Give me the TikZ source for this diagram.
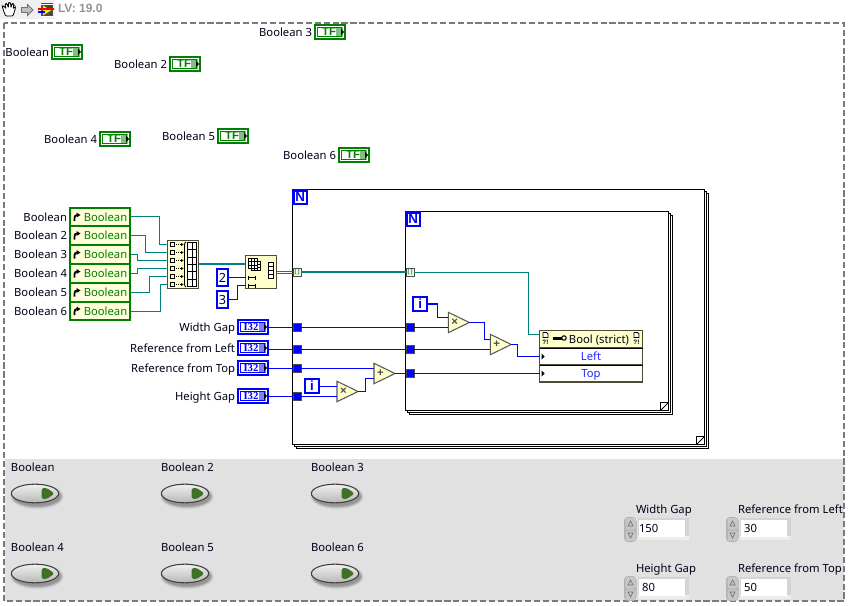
\documentclass[tikz,border=0pt]{standalone}
\usepackage{fontspec}
\setmainfont{Noto Sans}
\newfontfamily\lvsb{Liberation Sans}
\newfontfamily\lvsr{Liberation Serif}
\usetikzlibrary{calc,shapes.geometric,shadings}
\definecolor{lvgreen}{HTML}{007F00}
\definecolor{lvlight}{HTML}{7FBF7F}
\definecolor{lvblue}{HTML}{0000FF}
\definecolor{lvlblue}{HTML}{8080FF}
\definecolor{lvteal}{HTML}{008080}
\definecolor{lvcream}{HTML}{FFFFCC}
\definecolor{lvedge}{HTML}{4D4D33}
\definecolor{lvpanel}{HTML}{E1E1E1}
\definecolor{lvled}{HTML}{3F7026}
\newcommand{\lvfont}{\fontsize{8.45}{10}\selectfont}
\tikzset{
  lvb/.style={inner sep=0pt,outer sep=0pt,rectangle},
  lbl/.style={inner sep=0pt,outer sep=0pt,font=\lvfont,text=black!90!blue,text height=7pt,text depth=2pt,yshift=-1pt},
  bwire/.style={draw=lvblue,line width=1pt},
  twire/.style={draw=lvteal,line width=.95pt},
  thwire/.style={draw=lvteal,line width=1.6pt},
  loopfr/.style={draw=black,line width=.8pt,fill=white},
  nbox/.style={draw=lvblue,line width=1.6pt,fill=white,font=\lvsb\bfseries\fontsize{10}{10}\selectfont,text=lvblue},
  tun/.style={draw=black!70,line width=.7pt,fill=lvblue},
  atun/.style={draw=black!70,line width=.7pt,fill=lvcream,font=\lvsb\bfseries\fontsize{4.5}{5}\selectfont,text=lvteal},
  icn/.style={draw=lvedge,line width=.9pt,fill=lvcream},
  glyph/.style={draw=black,line width=.55pt,fill=white},
}
\newcommand{\lvbox}[7][]{\node[lvb,#1,minimum width={(#5-(#3))*0.75pt},minimum height={(#6-(#4))*0.75pt}] (#2) at ({(#3+#5)/2},{(#4+#6)/2}) {#7};}
% Boolean terminal: name, left, top, label
\newcommand{\tfterm}[4]{%
  \lvbox[draw=lvgreen,line width=1.5pt,fill=white]{#1}{#2+1}{#3+1}{#2+31}{#3+15}{}
  \fill[lvlight] (#2+22,#3+3) rectangle (#2+29,#3+13);
  \draw[lvgreen,line width=.75pt] (#2+3.5,#3+3.5) rectangle (#2+27,#3+12.5);
  \node[inner sep=0pt,font=\lvsb\bfseries\fontsize{8.5}{9}\selectfont,text=lvgreen] at (#2+15,#3+8) {TF};
  \fill[black] (#2+27,#3+5) -- (#2+30,#3+8) -- (#2+27,#3+11) -- cycle;
  \node[lbl,anchor=east] (#1l) at (#2-2,#3+8) {#4};
}
% I32 terminal
\newcommand{\iterm}[4]{%
  \lvbox[draw=lvblue,line width=1.5pt,fill=white]{#1}{237+1}{#2+1}{269-1}{#2+15}{}
  \fill[lvlblue] (237+22,#2+3) rectangle (237+29,#2+13);
  \draw[lvblue,line width=.75pt] (237+3.5,#2+3.5) rectangle (237+27,#2+12.5);
  \node[inner sep=0pt,font=\lvsr\bfseries\fontsize{8}{8}\selectfont,text=lvblue] at (237+14,#2+8) {I32};
  \fill[black] (237+27,#2+5) -- (237+30,#2+8) -- (237+27,#2+11) -- cycle;
  \node[lbl,anchor=east] (#1l) at (235,#2+8) {#3};
}
% property row: name, top, bottom, label
\newcommand{\prow}[4]{%
  \lvbox[draw=lvgreen,line width=1.5pt,fill=lvcream!70!white]{#1}{70}{#2}{130}{#3}{}
  \node[inner sep=0pt,anchor=west,font=\lvfont,text=lvgreen,text height=7pt,text depth=2pt,yshift=-.6pt] at (83.5,{(#2+#3)/2}) {Boolean};
  \draw[black,line width=1.3pt] (74.5,{(#2+#3)/2+4}) -- (74.5,{(#2+#3)/2+1}) .. controls (74.5,{(#2+#3)/2-1}) and (75.5,{(#2+#3)/2-2}) .. (77,{(#2+#3)/2-2});
  \fill[black] (76.5,{(#2+#3)/2-4.5}) -- (80.5,{(#2+#3)/2-2}) -- (76.5,{(#2+#3)/2+.5}) -- cycle;
  \node[lbl,anchor=east] (#1l) at (67,{(#2+#3)/2-.5}) {#4};
}
% triangle arithmetic node
\newcommand{\lvtri}[4]{%
  \draw[draw=black!65,line width=.8pt,fill=lvcream] (#2,#3) -- (#2+21,#3+10.2) -- (#2,#3+20.4) -- cycle;
  \coordinate (#1-a) at (#2,#3+5.2);
  \coordinate (#1-b) at (#2,#3+15.2);
  \coordinate (#1-o) at (#2+21,#3+10.2);
  \node[inner sep=0pt,font=\lvsb\bfseries\fontsize{8.5}{8}\selectfont,text=black!70] (#1) at (#2+6.5,#3+10.2) {#4};
}
% front panel switch
\newcommand{\lvled}[4]{%
  \node[lbl,anchor=west] (#1l) at (#2+1,#3-17) {#4};
  \foreach \k/\o in {6/.06,4.5/.08,3/.10,1.5/.14}{\fill[black,opacity=\o] (#2+27,#3+12.5) ellipse ({23+\k*.6} and {9+\k*.6});}
  \node[inner sep=0pt,outer sep=0pt,ellipse,draw=black!75,line width=.8pt,top color=black!6,bottom color=black!28,minimum width=35.5pt,minimum height=14pt] (#1) at (#2+25,#3+9.5) {};
  \draw[rounded corners=1pt,fill=lvled,draw=lvled] (#2+32,#3+4.5) -- (#2+37,#3+4.5) -- (#2+44,#3+9.5) -- (#2+37,#3+14.5) -- (#2+32,#3+14.5) -- cycle;
}
% numeric control: name,left,top,label,value
\newcommand{\lvnum}[5]{%
  \node[lbl,anchor=west] (#1l) at (#2-1,#3-9.5) {#4};
  \fill[black!30,rounded corners=3pt] (#2-13,#3-1) rectangle (#2-.5,#3+24);
  \fill[black!22,rounded corners=1pt] (#2-11.5,#3) rectangle (#2-1.5,#3+11.5);
  \fill[black!22,rounded corners=1pt] (#2-11.5,#3+12.5) rectangle (#2-1.5,#3+23);
  \draw[black!55,line width=.5pt] (#2-9,#3+8) -- (#2-6.5,#3+3) -- (#2-4,#3+8) -- cycle;
  \draw[black!55,line width=.5pt] (#2-9,#3+15) -- (#2-6.5,#3+20) -- (#2-4,#3+15) -- cycle;
  \fill[black!17] (#2+1,#3) rectangle (#2+52,#3+19);
  \fill[black!7] (#2+1,#3+18) rectangle (#2+52,#3+22);
  \lvbox[fill=white,font=\lvfont,text=black!90!blue,text height=7pt,text depth=2pt]{#1}{#2+2}{#3+2}{#2+48}{#3+19}{\hspace*{-20pt}\raisebox{-.8pt}{#5}}
}
\begin{document}
\begin{tikzpicture}[x=.75pt,y=-.75pt,line join=miter]
\useasboundingbox (0,0) rectangle (849,606);
\fill[white] (0,0) rectangle (849,606);
% toolbar
\fill[black!6] (0,0) rectangle (55,19);
\draw[black,line width=.6pt,fill=white,rounded corners=.8pt] (5.5,16) -- (3,9) -- (2,6) -- (4,6) -- (6,9) -- (5,4) -- (7,3.5) -- (8.5,8) -- (8.5,2.5) -- (10.5,2.5) -- (11,8) -- (12,3.5) -- (13.8,4) -- (13.2,9) -- (15,6.5) -- (15.5,8) -- (13,16) -- cycle;
\draw[black!55,line width=.7pt,fill=black!25] (21.5,7.5) -- (27.5,7.5) -- (27.5,4.5) -- (33,10) -- (27.5,15.5) -- (27.5,12.5) -- (21.5,12.5) -- cycle;
\fill[black!70] (40.5,3.5) rectangle (53,17.5);
\fill[white] (41,4) rectangle (53,5); \fill[white] (41,16) rectangle (53,17);
\fill[yellow!90!orange] (43,5.5) -- (51,10.5) -- (43,15.5) -- cycle;
\fill[black!75] (47,5.5) rectangle (52,9);
\draw[red,line width=.8pt] (38,9) -- (54,9);
\draw[blue,line width=.8pt] (38,12) -- (45,12);
\node[lvb,anchor=west,font=\lvsb\bfseries\fontsize{9}{10}\selectfont,text=black!42] (ver) at (58,8) {LV: 19.0};
% panel and dashed frame
\fill[lvpanel] (5,459) rectangle (844,601);
\draw[black!52,line width=1.5pt,dash pattern=on 4.6pt off 2.1pt] (4,23) rectangle (844,601);
% boolean terminals
\tfterm{ta}{51}{44}{Boolean}
\tfterm{tb}{169}{56}{Boolean 2}
\tfterm{tc}{314}{24}{Boolean 3}
\tfterm{td}{99}{131}{Boolean 4}
\tfterm{te}{217}{128}{Boolean 5}
\tfterm{tf}{338}{147}{Boolean 6}
% outer loop
\draw[loopfr] (296.5,193.5) rectangle (708.5,448.5);
\draw[loopfr] (294.5,191.5) rectangle (706.5,446.5);
\lvbox[loopfr]{outer}{292.5}{189.5}{704.5}{444.5}{}
\lvbox[glyph]{outc}{696.5}{436.5}{704.5}{444.5}{}
\draw[black,line width=.55pt] (696.5,444.5) -- (704.5,436.5);
\lvbox[nbox]{oN}{293.5}{190.5}{307}{204}{N}
% inner loop
\draw[loopfr] (409.5,215.5) rectangle (672.5,414.5);
\draw[loopfr] (407.5,213.5) rectangle (670.5,412.5);
\lvbox[loopfr]{inner}{405.5}{211.5}{668.5}{410.5}{}
\lvbox[glyph]{innc}{660.5}{402.5}{668.5}{410.5}{}
\draw[black,line width=.55pt] (660.5,410.5) -- (668.5,402.5);
\lvbox[nbox]{iN}{406.5}{212.5}{420}{226}{N}
% boolean cluster
\prow{pa}{208}{226}{Boolean}
\prow{pb}{226}{245}{Boolean 2}
\prow{pc}{245}{264}{Boolean 3}
\prow{pd}{264}{283}{Boolean 4}
\prow{pe}{283}{302}{Boolean 5}
\prow{pf}{302}{320}{Boolean 6}
% build array
\lvbox[icn]{ba}{167.5}{240.5}{198.5}{288.5}{}
\foreach \n/\y in {1/244.5,2/252.5,3/260.5,4/268.5,5/276.5,6/284.5}{
  \coordinate (ba\n) at (167.5,\y);
  \draw[black,line width=.55pt,fill=white] (170.5,\y-2) rectangle (174.5,\y+2);
  \draw[black,line width=.5pt,dash pattern=on .8pt off .8pt] (176,\y) -- (182,\y);
  \fill[black] (181,\y-1.5) -- (183.5,\y) -- (181,\y+1.5) -- cycle;
}
\draw[black,line width=.55pt,fill=white] (187.5,242.5) rectangle (196.5,286.5);
\draw[black,line width=.55pt] (192,242.5) -- (192,286.5);
\foreach \k in {1,...,5}{\draw[black,line width=.5pt] (187.5,242.5+\k*7.33) -- (196.5,242.5+\k*7.33);}
\draw[black,line width=.6pt] (186,242) .. controls (184.5,242) and (184.5,244) .. (184.5,246) -- (184.5,283) .. controls (184.5,285) and (184.5,287) .. (186,287);
\coordinate (baout) at (198.5,264);
% reshape
\lvbox[icn]{rs}{245.5}{255.5}{276.5}{288.5}{}
\coordinate (rsin) at (245.5,264);
\coordinate (rs1) at (245.5,277.5);
\coordinate (rs2) at (245.5,285.5);
\coordinate (rsout) at (276.5,272);
\foreach \dx/\dy in {2.5/2.5,0/0}{
  \draw[black,line width=.45pt,fill=white] (248.5+\dx,258.5+\dy) rectangle (257.5+\dx,268+\dy);
  \draw[black,line width=.45pt] (251.5+\dx,258.5+\dy) -- (251.5+\dx,268+\dy) (254.5+\dx,258.5+\dy) -- (254.5+\dx,268+\dy) (248.5+\dx,261.7+\dy) -- (257.5+\dx,261.7+\dy) (248.5+\dx,264.9+\dy) -- (257.5+\dx,264.9+\dy);
}
\foreach \y in {277.5,285.5}{\draw[black,line width=.6pt] (248,\y-2) -- (248,\y+2) (255,\y-2) -- (255,\y+2) (248,\y) -- (255,\y);}
\foreach \y in {264,268,272,276}{\draw[black,line width=.55pt,fill=white] (268,\y-2) rectangle (273,\y+2);}
% constants
\lvbox[nbox,font=\fontsize{9.5}{10}\selectfont,text=black!70!blue,line width=1.5pt]{k2}{217}{269}{228}{286}{2}
\lvbox[nbox,font=\fontsize{9.5}{10}\selectfont,text=black!70!blue,line width=1.5pt]{k3}{217}{291}{228}{308}{3}
% terminals I32
\iterm{c1}{319}{Width Gap}{}
\iterm{c2}{340}{Reference from Left}{}
\iterm{c3}{360}{Reference from Top}{}
\iterm{c4}{388}{Height Gap}{}
% tunnels
\lvbox[atun]{ta1}{293}{268}{301}{276}{[\,]}
\lvbox[atun]{ta2}{406}{268}{414}{276}{[\,]}
\foreach \n/\y in {1/327.5,2/349.5,3/368.5,4/396.5}{\lvbox[tun]{to\n}{293}{\y-4}{301}{\y+4}{}}
\foreach \n/\y in {1/327.5,2/349.5,3/373.5}{\lvbox[tun]{ti\n}{406}{\y-4}{414}{\y+4}{}}
% i terminals
\lvbox[nbox]{io}{305}{379}{319}{393}{i}
\lvbox[nbox]{ii}{413.3}{297}{427}{311}{i}
% arithmetic
\lvtri{mo}{337}{381.3}{×}
\lvtri{ao}{374}{363.3}{+}
\lvtri{mi}{448.3}{312.3}{×}
\lvtri{ai}{490.3}{334.3}{+}
% property node
\lvbox[draw=lvedge,line width=.9pt,fill=lvcream,font=\lvfont,text=black!90!blue,text height=7pt,text depth=2pt]{ph}{539.5}{330.5}{642.5}{348}{\hspace*{12pt}\raisebox{-.5pt}{Bool (strict)}}
\lvbox[draw=lvedge,line width=.9pt,fill=white,font=\lvfont,text=lvblue!85!white,text height=7pt,text depth=2pt]{pl}{539.5}{348}{642.5}{365}{\raisebox{-.5pt}{Left}}
\lvbox[draw=lvedge,line width=.9pt,fill=white,font=\lvfont,text=lvblue!85!white,text height=7pt,text depth=2pt]{pt}{539.5}{365}{642.5}{382}{\raisebox{-.5pt}{Top}}
\draw[black,line width=.6pt] (pl.south west) -- (pl.south east) (ph.south west) -- (ph.south east);
\foreach \x in {543,634}{
  \draw[black,line width=.55pt,fill=white] (\x,332.5) -- (\x+3.5,332.5) -- (\x+5,334) -- (\x+5,337.5) -- (\x,337.5) -- cycle;
  \node[inner sep=0pt,font=\lvsb\bfseries\fontsize{4.8}{5}\selectfont] at (\x+2.5,342.5) {?!};
}
\fill[black] (553,336.5) rectangle (562,339.5);
\draw[black,line width=.8pt,fill=white] (564,338) circle (2.2);
\fill[black] (541.5,353.5) -- (544.5,356.5) -- (541.5,359.5) -- cycle;
\fill[black] (541.5,370.5) -- (544.5,373.5) -- (541.5,376.5) -- cycle;
\coordinate (phin) at (539.5,334.5);
% wires
\draw[twire] ($(pa.east)+(1,-.5)$) -- ++(28.5,0) |- (ba1);
\draw[twire] ($(pb.east)+(1,0)$) -- ++(14.5,0) |- (ba2);
\draw[twire] ($(pc.east)+(1,0)$) -- ++(6.5,0) |- (ba3);
\draw[twire] ($(pd.east)+(1,0)$) -- ++(6.5,0) |- (ba4);
\draw[twire] ($(pe.east)+(1,0)$) -- ++(18.5,0) |- (ba5);
\draw[twire] ($(pf.east)+(1,.5)$) -- ++(29.5,0) |- (ba6);
\draw[thwire] (baout) -- (rsin);
\draw[bwire] (k2.east |- rs1) -- (rs1);
\draw[bwire] ($(k3.east)+(0,.0)$) -- ++(9.5,0) |- (rs2);
\draw[twire,line width=.6pt] ($(rsout)+(0,-1)$) -- ($(ta1.west)+(0,-1)$);
\draw[twire,line width=.6pt] ($(rsout)+(0,1)$) -- ($(ta1.west)+(0,1)$);
\draw[thwire] (ta1.east) -- (ta2.west);
\draw[twire] ($(ta2.east)+(0,.5)$) -- ++(114.5,0) |- (phin);
\foreach \n in {1,2,3,4}{\draw[bwire] (c\n.east |- to\n.west) ++(.75,0) -- (to\n.west);}
\draw[bwire] (to1.east) -- (ti1.west);
\draw[bwire] (to2.east) -- (ti2.west);
\draw[bwire] (to3.east) -- (ao-a);
\draw[bwire] (to4.east) -- (mo-b);
\draw[bwire] (io.east |- mo-a) -- (mo-a);
\draw[bwire] (mo-o) -- ++(7.5,0) |- (ao-b);
\draw[bwire] (ao-o) -- (ti3.west);
\draw[bwire] (ii.east) -- ++(10.5,0) |- (mi-a);
\draw[bwire] (ti1.east) -- (mi-b);
\draw[bwire] (mi-o) -- ++(15.2,0) |- (ai-a);
\draw[bwire] (ti2.east) -- (ai-b);
\draw[bwire] (ai-o) -- ++(6.2,0) |- (pl.west);
\draw[bwire] (ti3.east) -- (pt.west);
% front panel
\lvled{la}{10}{484}{Boolean}
\lvled{lb}{160}{484}{Boolean 2}
\lvled{lc}{310}{484}{Boolean 3}
\lvled{ld}{10}{564}{Boolean 4}
\lvled{le}{160}{564}{Boolean 5}
\lvled{lf}{310}{564}{Boolean 6}
\lvnum{na}{637}{518}{Width Gap}{150}
\lvnum{nb}{739}{518}{Reference from Left}{30}
\lvnum{nc}{637}{577}{Height Gap}{80}
\lvnum{nd}{739}{577}{Reference from Top}{50}
\end{tikzpicture}
\end{document}
